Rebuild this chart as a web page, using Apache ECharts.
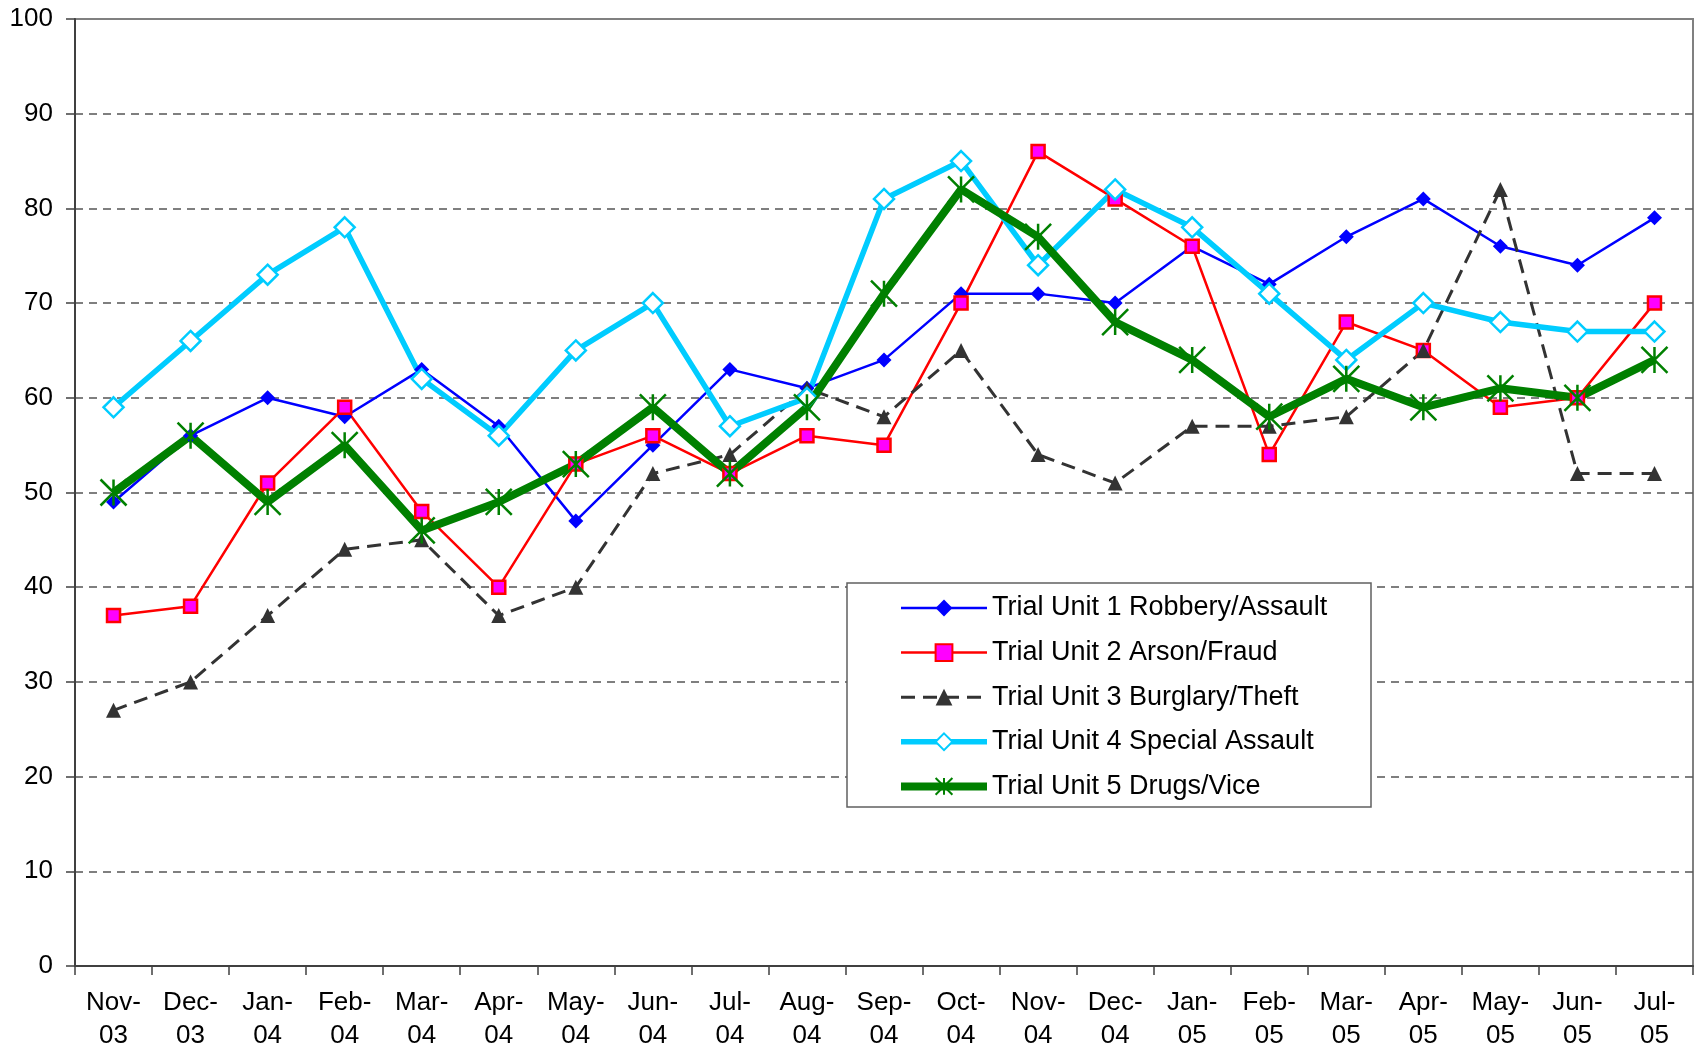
<!DOCTYPE html>
<html>
<head>
<meta charset="utf-8">
<style>
  html, body { margin: 0; padding: 0; background: #fff; }
  #chart { width: 1695px; height: 1053px; }
</style>
<script src="https://cdn.jsdelivr.net/npm/echarts@6/dist/echarts.min.js"></script>
</head>
<body>
<div id="chart"></div>
<script>
const categories = ['Nov-\n03','Dec-\n03','Jan-\n04','Feb-\n04','Mar-\n04','Apr-\n04','May-\n04','Jun-\n04','Jul-\n04','Aug-\n04','Sep-\n04','Oct-\n04','Nov-\n04','Dec-\n04','Jan-\n05','Feb-\n05','Mar-\n05','Apr-\n05','May-\n05','Jun-\n05','Jul-\n05'];
const unit1 = [49, 56, 60, 58, 63, 57, 47, 55, 63, 61, 64, 71, 71, 70, 76, 72, 77, 81, 76, 74, 79];
const unit2 = [37, 38, 51, 59, 48, 40, 53, 56, 52, 56, 55, 70, 86, 81, 76, 54, 68, 65, 59, 60, 70];
const unit3 = [27, 30, 37, 44, 45, 37, 40, 52, 54, 61, 58, 65, 54, 51, 57, 57, 58, 65, 82, 52, 52];
const unit4 = [59, 66, 73, 78, 62, 56, 65, 70, 57, 60, 81, 85, 74, 82, 78, 71, 64, 70, 68, 67, 67];
const unit5 = [50, 56, 49, 55, 46, 49, 53, 59, 52, 59, 71, 82, 77, 68, 64, 58, 62, 59, 61, 60, 64];
const seriesNames = ['Trial Unit 1 Robbery/Assault','Trial Unit 2 Arson/Fraud','Trial Unit 3 Burglary/Theft','Trial Unit 4 Special Assault','Trial Unit 5 Drugs/Vice'];
const yTicks = { min: 0, max: 100, interval: 10 };

const FONT = "'Liberation Sans', Arial, sans-serif";
const chart = echarts.init(document.getElementById('chart'), null, { renderer: 'canvas' });

const option = {
  animation: false,
  backgroundColor: '#ffffff',
  grid: {
    left: 75, right: 2, top: 19, bottom: 87,
    show: true, borderColor: '#808080', borderWidth: 2, backgroundColor: 'transparent'
  },
  xAxis: {
    type: 'category',
    data: categories,
    boundaryGap: true,
    axisLine: { show: true, lineStyle: { color: '#404040', width: 2 } },
    axisTick: { show: true, length: 9, interval: 0, lineStyle: { color: '#404040', width: 1.5 } },
    axisLabel: { interval: 0, fontSize: 26, lineHeight: 33, margin: 20, color: '#000', fontFamily: FONT },
    splitLine: { show: false }
  },
  yAxis: {
    type: 'value',
    min: yTicks.min, max: yTicks.max, interval: yTicks.interval,
    axisLine: { show: true, lineStyle: { color: '#404040', width: 2 } },
    axisTick: { show: true, length: 9, lineStyle: { color: '#404040', width: 1.5 } },
    axisLabel: { fontSize: 26, margin: 22, color: '#000', fontFamily: FONT },
    splitLine: { show: true, showMinLine: false, showMaxLine: false, lineStyle: { color: '#555', width: 1.5, type: [8, 6] } }
  },
  legend: {
    orient: 'vertical',
    left: 897, top: 593,
    padding: 0,
    itemWidth: 86, itemHeight: 21, itemGap: 14.6,
    textStyle: { fontSize: 27, lineHeight: 30, color: '#000', fontFamily: FONT },
    lineStyle: { width: 'inherit' },
    data: seriesNames,
    z: 10
  },
  graphic: [{
    type: 'rect', z: 5,
    shape: { x: 847, y: 583, width: 524, height: 224 },
    style: { fill: '#fff', stroke: '#606060', lineWidth: 1.5 }
  }],
  series: [
    {
      name: seriesNames[0], type: 'line', data: unit1,
      symbol: 'diamond', symbolSize: 15,
      lineStyle: { color: '#0000FF', width: 2.5 },
      itemStyle: { color: '#0000FF' }
    },
    {
      name: seriesNames[1], type: 'line', data: unit2,
      symbol: 'rect', symbolSize: 13,
      lineStyle: { color: '#FF0000', width: 2.5 },
      itemStyle: { color: '#FF00FF', borderColor: '#FF0000', borderWidth: 2.5 }
    },
    {
      name: seriesNames[2], type: 'line', data: unit3,
      symbol: 'triangle', symbolSize: [15, 15],
      lineStyle: { color: '#333333', width: 3, type: [14, 8] },
      itemStyle: { color: '#333333' }
    },
    {
      name: seriesNames[3], type: 'line', data: unit4,
      symbol: 'diamond', symbolSize: 20,
      lineStyle: { color: '#00CCFF', width: 5.5 },
      itemStyle: { color: '#ffffff', borderColor: '#00CCFF', borderWidth: 2.5 }
    },
    {
      name: seriesNames[4], type: 'line', data: unit5,
      symbol: 'path://M0 0L20 20M20 0L0 20M10 0L10 20', symbolSize: 26,
      lineStyle: { color: '#008000', width: 8 },
      itemStyle: { color: 'rgba(0,0,0,0)', borderColor: '#008000', borderWidth: 2.5 }
    }
  ]
};
chart.setOption(option);
</script>
</body>
</html>
